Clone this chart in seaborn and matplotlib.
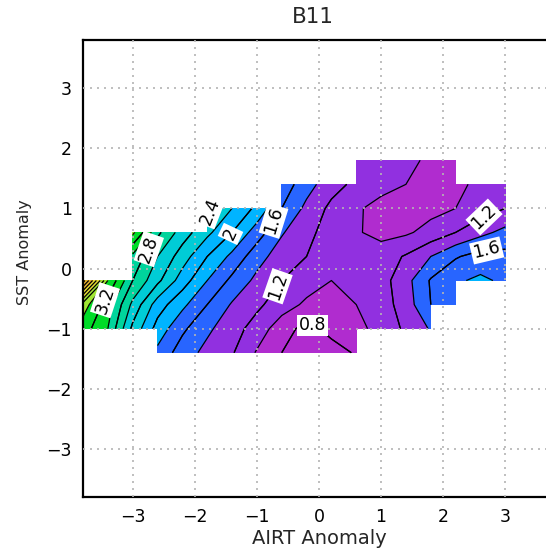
import numpy as np
import matplotlib
matplotlib.use("Agg")
import matplotlib.pyplot as plt
import seaborn as sns

# ---- data -------------------------------------------------------------
airt = [-3.8, -3.4, -3.0, -2.6, -2.2, -1.8, -1.4, -1.0, -0.6, -0.2,
        0.2, 0.6, 1.0, 1.4, 1.8, 2.2, 2.6, 3.0]
sst = [-1.4, -1.0, -0.6, -0.2, 0.2, 0.6, 1.0, 1.4, 1.8]
nan = np.nan
row_m14 = [nan, nan, nan, 1.75, 1.50, 1.34, 1.22, 0.98, 0.80, 0.70, 0.72, 0.82, nan, nan, nan, nan, nan, nan]
row_m10 = [3.30, 3.00, 2.35, 1.92, 1.64, 1.44, 1.28, 1.12, 0.88, 0.74, 0.86, 0.95, 1.06, 1.24, 1.42, nan, nan, nan]
row_m06 = [3.50, 3.10, 2.55, 2.10, 1.85, 1.60, 1.38, 1.24, 1.10, 0.96, 0.94, 1.00, 1.10, 1.30, 1.60, 1.76, nan, nan]
row_m02 = [4.70, 3.40, 2.80, 2.45, 2.10, 1.80, 1.55, 1.35, 1.20, 1.10, 1.00, 1.05, 1.12, 1.33, 1.62, 1.77, 1.84, 1.76]
row_p02 = [nan, nan, 2.95, 2.60, 2.30, 2.00, 1.75, 1.48, 1.30, 1.20, 1.12, 1.05, 1.10, 1.22, 1.40, 1.58, 1.68, 1.66]
row_p06 = [nan, nan, 3.45, 2.85, 2.50, 2.25, 2.00, 1.70, 1.42, 1.25, 1.12, 1.02, 0.94, 0.97, 1.07, 1.20, 1.34, 1.46]
row_p10 = [nan, nan, nan, nan, nan, 2.45, 2.20, 1.95, 1.60, 1.35, 1.15, 1.02, 0.95, 0.90, 0.94, 1.00, 1.10, 1.20]
row_p14 = [nan, nan, nan, nan, nan, nan, nan, nan, 1.72, 1.48, 1.28, 1.15, 1.05, 1.00, 0.93, 0.96, 1.04, 1.12]
row_p18 = [nan, nan, nan, nan, nan, nan, nan, nan, nan, nan, nan, 1.20, 1.12, 1.04, 0.97, 0.93, nan, nan]

fill_levels = [0.0, 1.0, 1.4, 1.8, 2.2, 2.6, 3.0, 3.4, 3.8, 4.2, 4.6, 5.0]
fill_colors = ['#b02ccf', '#9130e0', '#2865ff', '#00b4ff', '#00ccd6', '#00d49c',
               '#00dc28', '#a0e632', '#e6dc32', '#e6af2d', '#f08228']
label_levels = [0.8, 1.2, 1.6, 2.0, 2.4, 2.8, 3.2]

# ---- style ------------------------------------------------------------
sns.set_style("white")
plt.rcParams['font.family'] = ['DejaVu Sans']

fig = plt.figure(figsize=(5.46, 5.50), dpi=100)
ax = fig.add_axes([83 / 546, 53 / 550, 472 / 546, 457 / 550])

Z = np.ma.masked_invalid(np.array([row_m14, row_m10, row_m06, row_m02, row_p02,
                                   row_p06, row_p10, row_p14, row_p18]))
X, Y = np.meshgrid(airt, sst)

line_levels = np.round(np.arange(0.6, 5.01, 0.2), 1)
ax.contourf(X, Y, Z, levels=fill_levels, colors=fill_colors, corner_mask=False, zorder=1)
ax.contour(X, Y, Z, levels=line_levels, colors='black', linewidths=0.9,
           corner_mask=False, zorder=2)
cs_lab = ax.contour(X, Y, Z, levels=label_levels, colors='black', linewidths=0.9,
                    corner_mask=False, zorder=2)

label_pos = [(-0.15, -0.97), (-0.58, -0.31), (-0.58, 0.77), (-1.53, 0.6),
             (-1.84, 0.97), (-2.78, 0.33), (-3.66, -0.49), (2.6, 0.89), (2.7, 0.3)]
lbls = ax.clabel(cs_lab, manual=label_pos, fmt='%g', fontsize=12.5,
                 inline=False)
for t in lbls:
    t.set_bbox(dict(facecolor='white', edgecolor='none', pad=1.2))
    t.set_zorder(4)
    if t.get_text() == '0.8':
        t.set_rotation(0)

ax.set_xlim(-3.8, 3.8)
ax.set_ylim(-3.8, 3.8)
ax.set_xticks(range(-3, 4))
ax.set_yticks(range(-3, 4))
ax.tick_params(direction='out', length=6, width=1.5, labelsize=12.5, colors='black', pad=2)
for s in ax.spines.values():
    s.set_linewidth(1.6)
    s.set_color('black')
ax.set_axisbelow(False)
ax.grid(True, color='#b4b4b4', linestyle=(0, (1.2, 3.0)), linewidth=1.2, zorder=3)

ax.set_xlabel('AIRT Anomaly', fontsize=14)
ax.set_ylabel('SST Anomaly', fontsize=11.5)
ax.xaxis.set_label_coords(0.5, -(529 - 497) / 457)
ax.yaxis.set_label_coords((32 - 83) / 472, (497 - 252) / 457)

fig.text(313 / 546, 1 - 17 / 550, 'B11', ha='center', va='center', fontsize=15.5)

fig.savefig('out.png', dpi=100)
